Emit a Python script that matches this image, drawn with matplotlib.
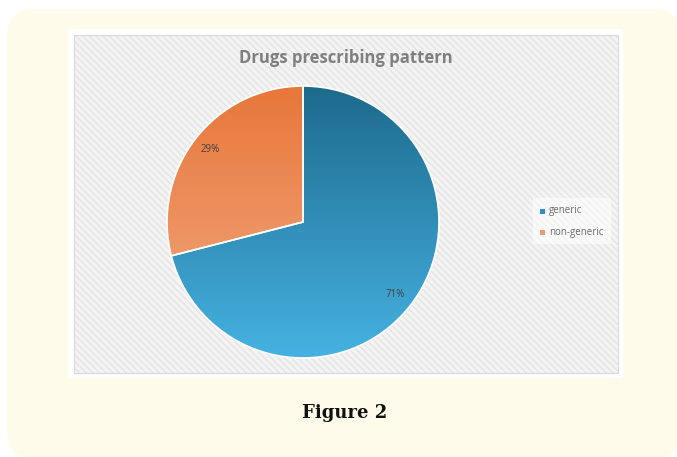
import numpy as np
import matplotlib.pyplot as plt
from matplotlib.patches import FancyBboxPatch, Rectangle
from matplotlib.colors import LinearSegmentedColormap

# date
categorii = ['generic', 'non-generic']
procente = [71, 29]
culori_sus = ['#1d6a8c', '#e8773a']   # culoarea in partea de sus a gradientului
culori_jos = ['#46b2e2', '#f2ab85']   # culoarea in partea de jos
culori_legenda = ['#2e8fc0', '#ee9a6c']

W, H = 677, 457
fig = plt.figure(figsize=(W / 100, H / 100), dpi=100)

# fundal: card crem cu colturi rotunjite, panou alb, zona hasurata
bg = fig.add_axes([0, 0, 1, 1])
bg.set_xlim(0, W)
bg.set_ylim(H, 0)
bg.axis('off')
bg.add_patch(FancyBboxPatch((7 + 28, 9 + 28), W - 7 - 56 + 4, H - 9 - 56 + 2,
                            boxstyle='round,pad=28', fc='#fffbea', ec='none'))
bg.add_patch(Rectangle((68, 29), 555, 349, fc='white', ec='none'))
bg.add_patch(Rectangle((74, 35), 544, 338, fc='#f4f4f4', ec='#e4e4e4',
                       hatch='\\\\\\\\\\', lw=0))
bg.add_patch(Rectangle((74, 35), 544, 338, fc='none', ec='#d9d9d9', lw=0.8))

bg.text(346, 58, 'Drugs prescribing pattern', ha='center', va='center',
        fontsize=12, fontweight='bold', color='#7f7f7f', family='Open Sans')
bg.text(345, 413, 'Figure 2', ha='center', va='center', fontsize=13,
        fontweight='bold', color='#111111', family='DejaVu Serif')

# legenda (cu fundal alb usor transparent)
bg.add_patch(Rectangle((533, 198), 78, 46, fc='white', ec='none', alpha=0.55))
for i, (cat, c) in enumerate(zip(categorii, culori_legenda)):
    y = 211 + i * 21
    bg.add_patch(Rectangle((540, y - 2.5), 5, 5, fc=c, ec='none'))
    bg.text(549, y, cat, ha='left', va='center', fontsize=7,
            color='#6b6b6b', family='Open Sans')

# pie
cx, cy, r = 303, 222, 136
ax = fig.add_axes([(cx - r) / W, (H - cy - r) / H, 2 * r / W, 2 * r / H])
wedges, _ = ax.pie(procente, startangle=90, counterclock=False, radius=1,
                   wedgeprops=dict(ec='white', lw=1.2))
ax.set_xlim(-1, 1)
ax.set_ylim(-1, 1)
ax.axis('off')

grad = np.linspace(1, 0, 256).reshape(-1, 1)
for w, c1, c2 in zip(wedges, culori_sus, culori_jos):
    cmap = LinearSegmentedColormap.from_list('g', [c2, c1])
    w.set_facecolor('none')
    im = ax.imshow(grad, extent=(-1, 1, -1, 1), cmap=cmap, vmin=0, vmax=1,
                   aspect='auto', origin='upper', zorder=0.5)
    im.set_clip_path(w)
    w.set_zorder(1)

# etichete procente
ax.text(-0.68, 0.53, f'{procente[1]}%', ha='center', va='center',
        fontsize=7, color='#404040', family='Open Sans')
ax.text(0.68, -0.53, f'{procente[0]}%', ha='center', va='center',
        fontsize=7, color='#404040', family='Open Sans')

fig.savefig('out.png', dpi=100)
